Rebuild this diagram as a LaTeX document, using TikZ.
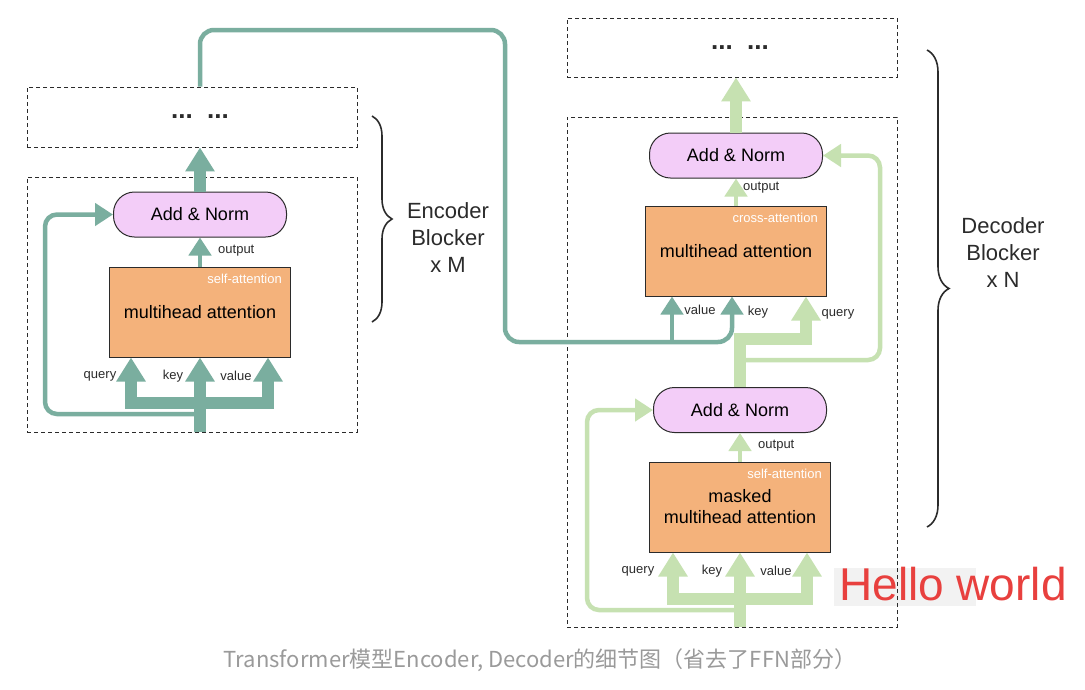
\documentclass[tikz,border=0pt]{standalone}
\usepackage{fontspec}
\setmainfont{Liberation Sans}
\newfontfamily\cjk{Noto Sans CJK SC}
\usepackage{tikz}
\usetikzlibrary{arrows.meta, positioning, calc, decorations.pathreplacing}
\definecolor{kteal}{HTML}{7AAE9F}
\definecolor{kgreen}{HTML}{C6E1B1}
\definecolor{knorm}{HTML}{F3CDF8}
\definecolor{korange}{HTML}{F4B27B}
\definecolor{kdark}{HTML}{2B2B2B}
\definecolor{kcaption}{HTML}{9A9A9A}
\definecolor{kred}{HTML}{E8403E}

\tikzset{
  dashbox/.style={draw=kdark, line width=0.9pt, dash pattern=on 4pt off 3pt, minimum width=330pt},
  normbox/.style={draw=kdark, fill=knorm, line width=1pt, rounded corners=21pt,
    minimum width=173pt, minimum height=45pt, font=\fontsize{18}{21}\selectfont},
  attnbox/.style={draw=kdark, fill=korange, line width=1pt, minimum width=181pt,
    minimum height=90pt, align=center, font=\fontsize{18}{21}\selectfont},
  tagtext/.style={font=\fontsize{13}{15}\selectfont, text=white, anchor=north east, inner sep=0pt,
    xshift=-9pt, yshift=-7pt},
  lbl/.style={font=\fontsize{13}{15}\selectfont, text=kdark, inner sep=1pt},
  dotstext/.style={font=\fontsize{26}{30}\selectfont\bfseries, text=kdark},
  blocktext/.style={font=\fontsize{22}{27}\selectfont, align=center, text=kdark},
  bracedraw/.style={draw=kdark, line width=1.6pt, decorate},
  fatarrow/.style={line width=12pt, -{Triangle[width=28pt, length=24pt]}},
  thinarrow/.style={line width=4.5pt, -{Triangle[width=22pt, length=18pt]}},
}

\begin{document}
\begin{tikzpicture}[x=1pt, y=-1pt]
  \useasboundingbox[fill=white] (0,0) rectangle (1085,689);

  %% Encoder
  \node[dashbox, minimum height=60pt] (encTop) at (192,117) {};
  \node[dashbox, minimum height=255pt] (encBox) at (192,304.5) {};
  \node[normbox] (encNorm) at (200,214.5) {Add \& Norm};
  \node[attnbox] (encAttn) at (200,312) {multihead attention};
  \node[tagtext] (encTag) at (encAttn.north east) {self-attention};
  \node[dotstext] (encDots) at (encNorm.center |- encTop) {...\ \ ...};

  \coordinate (encIn) at (encNorm.center |- encBox.south);
  \coordinate (encQ) at ($(encAttn.south)+(-69,0)$);
  \coordinate (encK) at (encAttn.south);
  \coordinate (encV) at ($(encAttn.south)+(68,0)$);
  \coordinate (encBar) at (0,403);
  \coordinate (encRes) at (0,414);
  \coordinate (encLeft) at (45,0);

  \draw[kteal, thinarrow, rounded corners=12pt] (encIn |- encRes) -| (encLeft |- encNorm.west) -- (encNorm.west);
  \draw[kteal, fatarrow] (encIn) -- (encK);
  \draw[kteal, fatarrow] (encIn) |- (encQ |- encBar) -- (encQ);
  \draw[kteal, fatarrow] (encIn) |- (encV |- encBar) -- (encV);
  \draw[kteal, thinarrow] (encAttn.north) -- (encNorm.south);
  \draw[kteal, fatarrow] (encNorm.north) -- (encNorm.north |- encTop.south);

  \node[lbl] (encQLbl) at (100,376) {query};
  \node[lbl] (encKLbl) at (173,376) {key};
  \node[lbl] (encVLbl) at (236,376) {value};
  \node[lbl, anchor=west] (encOut) at (217,251) {output};

  \draw[bracedraw, decoration={brace, amplitude=20pt, aspect=0.5}] (372,116) -- (372,322);
  \node[blocktext] (encText) at (448,238) {Encoder\\Blocker\\x M};

  %% Decoder
  \fill[gray!10] (834,568) rectangle (976,606);
  \node[dashbox, minimum height=59pt] (decTop) at (732,47.5) {};
  \node[dashbox, minimum height=510pt] (decBox) at (732,372) {};
  \node[normbox] (decNormUp) at (736,155.5) {Add \& Norm};
  \node[attnbox] (decCross) at (736,251) {multihead attention};
  \node[tagtext] (crossTag) at (decCross.north east) {cross-attention};
  \node[normbox] (decNormLo) at (740,410) {Add \& Norm};
  \node[attnbox] (decMask) at (740,507) {masked\\multihead attention};
  \node[tagtext] (maskTag) at (decMask.north east) {self-attention};
  \node[dotstext] (decDots) at (decNormLo.center |- decTop) {...\ \ ...};

  \coordinate (decIn) at (decMask.center |- decBox.south);
  \coordinate (decQ) at ($(decMask.south)+(-67,0)$);
  \coordinate (decK) at (decMask.south);
  \coordinate (decV) at ($(decMask.south)+(67,0)$);
  \coordinate (decBar) at (0,599);
  \coordinate (decRes) at (0,610);
  \coordinate (decLeft) at (587,0);

  \coordinate (crossV) at ($(decCross.south)+(-64,0)$);
  \coordinate (crossK) at ($(decCross.south)+(-4,0)$);
  \coordinate (crossQ) at ($(decCross.south)+(70,0)$);
  \coordinate (crossBend) at (0,339);
  \coordinate (crossRes) at (0,360);
  \coordinate (decRight) at (880,0);

  %% lower sub-block
  \draw[kgreen, thinarrow, rounded corners=12pt] (decIn |- decRes) -| (decLeft |- decNormLo.west) -- (decNormLo.west);
  \draw[kgreen, fatarrow] (decIn) -- (decK);
  \draw[kgreen, fatarrow] (decIn) |- (decQ |- decBar) -- (decQ);
  \draw[kgreen, fatarrow] (decIn) |- (decV |- decBar) -- (decV);
  \draw[kgreen, thinarrow] (decMask.north) -- (decNormLo.south);

  \node[lbl] (decQLbl) at (638,571) {query};
  \node[lbl] (decKLbl) at (712,571) {key};
  \node[lbl] (decVLbl) at (776,571) {value};
  \node[lbl, anchor=west] (decOutLo) at (757,446) {output};

  %% upper sub-block
  \draw[kgreen, thinarrow, rounded corners=12pt] (decNormLo.north |- crossRes) -| (decRight |- decNormUp.east) -- (decNormUp.east);
  \draw[kgreen, fatarrow] (decNormLo.north) |- (crossQ |- crossBend) -- (crossQ);
  \draw[kgreen, thinarrow] (decCross.north) -- (decNormUp.south);
  \draw[kgreen, fatarrow] (decNormUp.north) -- (decNormUp.north |- decTop.south);

  \node[lbl] (crossVLbl) at (700,310) {value};
  \node[lbl] (crossKLbl) at (758,312) {key};
  \node[lbl] (crossQLbl) at (838,314) {query};
  \node[lbl, anchor=west] (decOutUp) at (742,188) {output};

  %% encoder output into cross-attention
  \coordinate (encUp) at (0,30);
  \coordinate (encRight) at (505,0);
  \coordinate (encJoin) at (0,342);
  \draw[kteal, thinarrow, rounded corners=14pt] (encNorm.center |- encTop.north) |- (encRight |- encUp)
    -- (encRight |- encJoin) -| (crossK);
  \draw[kteal, thinarrow] (crossV |- encJoin) -- (crossV);

  \draw[bracedraw, decoration={brace, amplitude=22pt, aspect=0.5}] (927,50) -- (927,527);
  \node[blocktext] (decText) at (1003,253) {Decoder\\Blocker\\x N};

  %% Annotation and caption
  \node[font=\fontsize{46}{50}\selectfont, text=kred] (hello) at (953,584) {Hello world};
  \node[font=\cjk\fontsize{22}{26}\selectfont, text=kcaption] (caption) at (540,660)
    {Transformer模型Encoder, Decoder的细节图（省去了FFN部分）};

\end{tikzpicture}
\end{document}
